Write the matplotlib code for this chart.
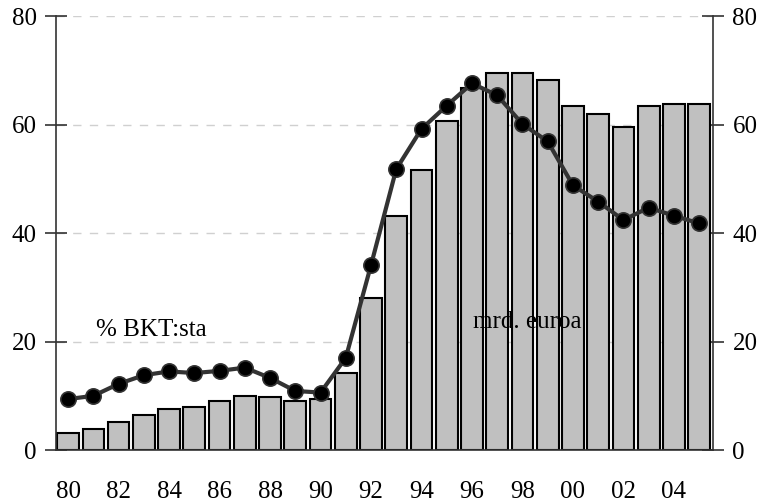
import numpy as np
import matplotlib
matplotlib.use("Agg")
import matplotlib.pyplot as plt

plt.rcParams['font.family'] = ['Liberation Serif', 'DejaVu Serif']

years = list(range(1980, 2006))
# mrd. euroa (bars)
debt_eur = [3.1, 3.8, 5.2, 6.4, 7.5, 7.9, 9.0, 10.0, 9.7, 9.0, 9.4, 14.2,
            28.1, 43.2, 51.7, 60.6, 66.8, 69.6, 69.6, 68.3, 63.5, 62.0, 59.5,
            63.5, 63.8, 63.8]
# % BKT:sta (line)
debt_gdp = [9.4, 10.0, 12.2, 13.8, 14.5, 14.2, 14.6, 15.2, 13.3, 10.9, 10.6, 17.0,
            34.1, 51.8, 59.2, 63.5, 67.6, 65.4, 60.1, 56.9, 48.8, 45.8, 42.4,
            44.7, 43.2, 41.8]
tick_years = [y for y in years if y % 2 == 0 and y <= 2004]
tick_labels = ["%02d" % (y % 100) for y in tick_years]

fig = plt.figure(figsize=(7.64, 5.04), dpi=100)
ax = fig.add_axes([0.0733, 0.107, 0.8600, 0.861])

x = np.arange(len(years))
ax.bar(x, debt_eur, width=0.86, color="#c0c0c0", edgecolor="black", linewidth=1.5, zorder=2)
ax.plot(x, debt_gdp, color="#333333", linewidth=3, marker="o", markersize=11,
        markerfacecolor="black", markeredgecolor="#333333", markeredgewidth=1.2, zorder=3)

ax.set_xlim(-0.48, 25.55)
ax.set_ylim(0, 80)
ax.set_yticks([0, 20, 40, 60, 80])
ax.yaxis.grid(True, color="#d0d0d0", linestyle=(0, (6, 6)), linewidth=1, zorder=0)
ax.set_axisbelow(True)

pos = [years.index(y) for y in tick_years]
ax.set_xticks(pos)
ax.set_xticklabels(tick_labels)

ax.tick_params(axis="x", length=0, pad=22, labelsize=18)
ax.tick_params(axis="y", direction="inout", length=16, width=1.2, labelsize=18, pad=6,
               right=True, labelright=True, color="#333333")

ax.spines["top"].set_visible(False)
for s in ["left", "right", "bottom"]:
    ax.spines[s].set_color("#333333")
    ax.spines[s].set_linewidth(1.2)

ax.text(1.11, 22.2, "% BKT:sta", fontsize=18, ha="left", va="center")
ax.text(16.03, 23.6, "mrd. euroa", fontsize=18, ha="left", va="center")

fig.savefig("out.png", dpi=100)
